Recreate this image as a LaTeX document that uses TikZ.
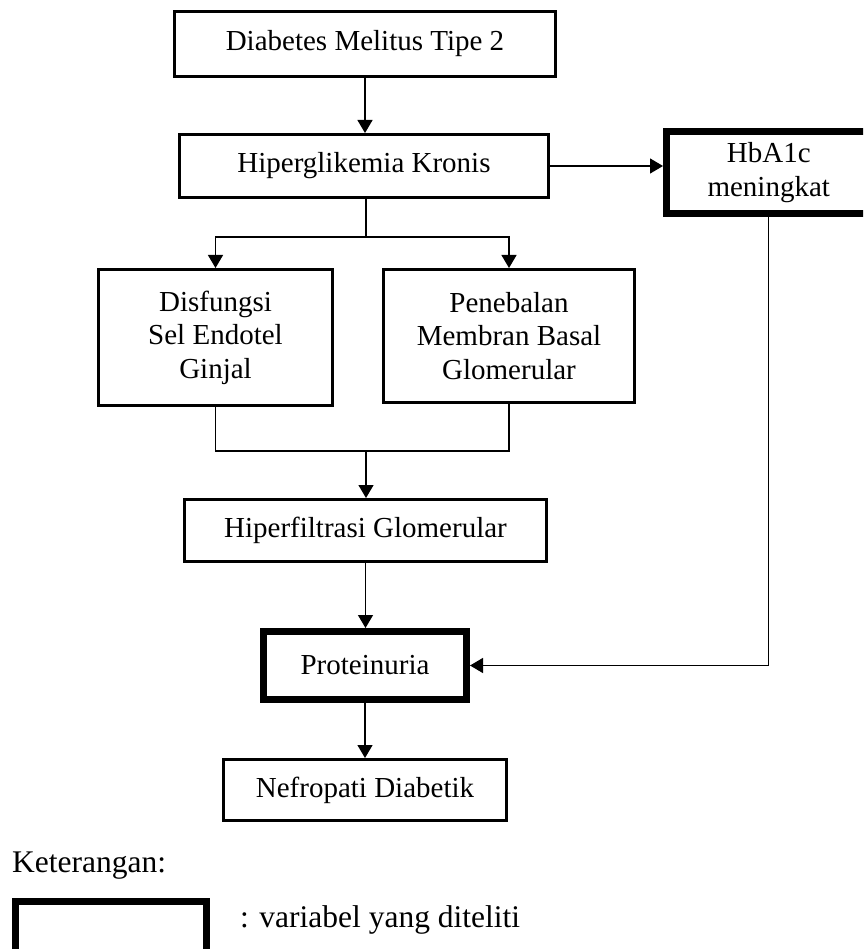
\documentclass[tikz,border=0pt]{standalone}
\usepackage{fontspec}
\setmainfont{Liberation Serif}
\usetikzlibrary{arrows.meta}
\begin{document}
\begin{tikzpicture}[x=1pt,y=-1pt,
  box/.style={draw, line width=3pt, rectangle, inner sep=0pt, align=center,
    font=\fontsize{29}{33.5}\selectfont},
  varbox/.style={box, line width=7pt},
  conn/.style={line width=1.3pt},
  arr/.style={conn, -{Triangle[width=15pt,length=13pt]}},
  txt/.style={inner sep=0pt, font=\fontsize{31.5}{36}\selectfont}]
\clip (0,0) rectangle (863,949);
\fill[white] (0,0) rectangle (863,949);
\node[box, minimum width=381pt, minimum height=65pt] (dm) at (365,44) {Diabetes Melitus Tipe 2};
\node[box, minimum width=369pt, minimum height=63pt] (hk) at (364,166) {Hiperglikemia Kronis};
\node[varbox, minimum width=204.5pt, minimum height=82pt] (hb) at (768.75,172.5) {HbA1c\\meningkat};
\node[box, minimum width=234pt, minimum height=136pt] (df) at (215.5,337.5) {Disfungsi\\Sel Endotel\\Ginjal};
\node[box, minimum width=251pt, minimum height=133pt] (pb) at (509,336) {Penebalan\\Membran Basal\\Glomerular};
\node[box, minimum width=362pt, minimum height=62pt] (hf) at (365.5,530.5) {Hiperfiltrasi Glomerular};
\node[varbox, minimum width=203pt, minimum height=68pt] (pr) at (365,665.5) {Proteinuria};
\node[box, minimum width=283pt, minimum height=61pt] (nd) at (365,790) {Nefropati Diabetik};
\node[txt, anchor=west] (ket) at (12,866) {Keterangan:};
\node[varbox, minimum width=191pt, minimum height=63.5pt] (lg) at (111,933.25) {};
\node[txt, anchor=west] (lgt) at (240,920) {: variabel yang diteliti};
\coordinate (br) at (366,237);
\coordinate (jn) at (366,451);
% connectors
\draw[arr] (dm.south) -- (dm.south |- hk.north);
\draw[arr] (hk.east) -- (hk.east -| hb.west);
\draw[conn] (hk.south -| br) -- (br);
\draw[arr] (br) -| (df.north);
\draw[arr] (br) -| (pb.north);
\draw[conn] (df.south) |- (jn);
\draw[conn] (pb.south) |- (jn);
\draw[arr] (jn) -- (jn |- hf.north);
\draw[arr] (hf.south) -- (hf.south |- pr.north);
\draw[arr] (pr.south) -- (pr.south |- nd.north);
\draw[arr] (hb.south) |- (pr.east);
\end{tikzpicture}
\end{document}
